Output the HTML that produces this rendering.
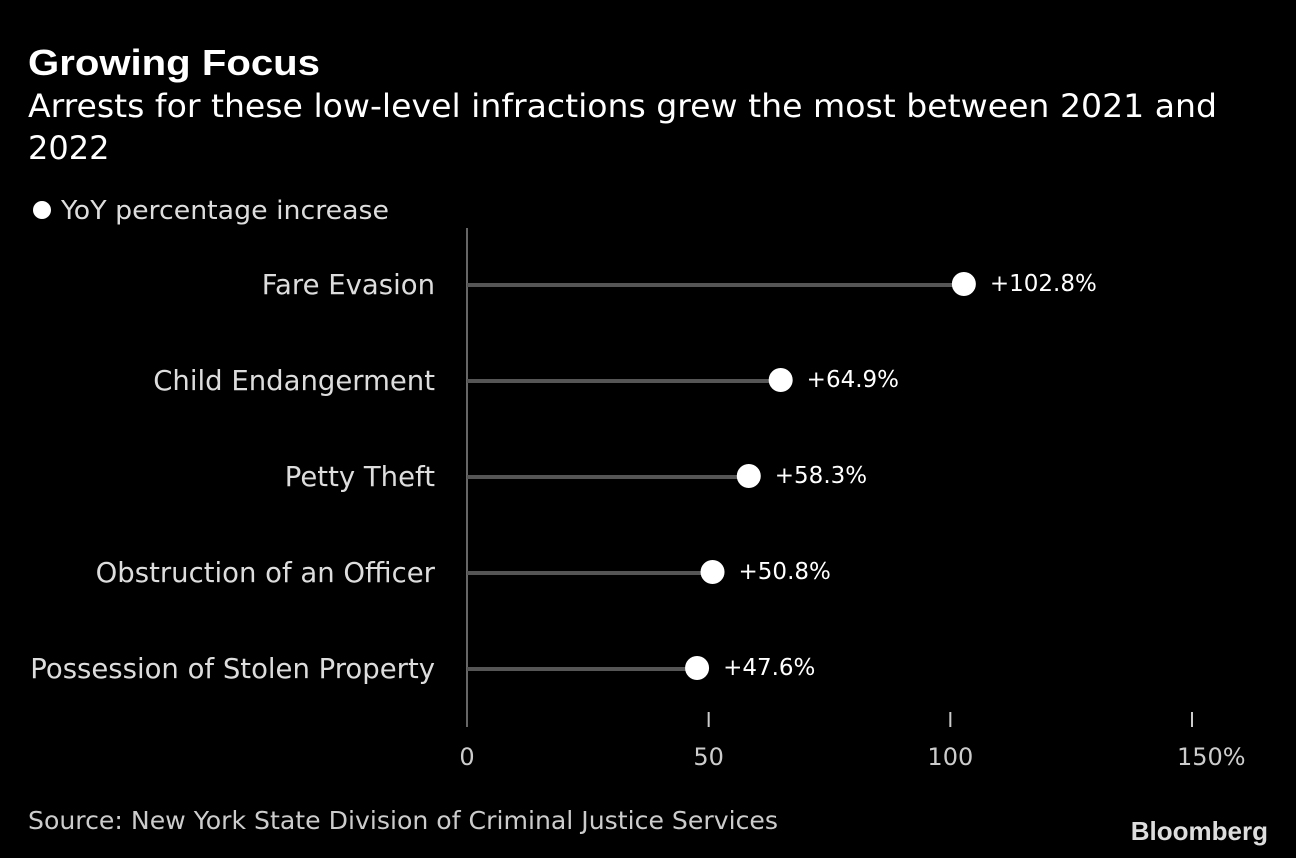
<!DOCTYPE html>
<html><head><meta charset="utf-8"><style>
body{margin:0;background:#000;width:1296px;height:858px;overflow:hidden;font-family:"DejaVu Sans","Liberation Sans",sans-serif;}
svg{display:block}
</style></head><body>
<svg id="c" width="1296" height="858">
<text x="28" y="75" fill="#fff" font-size="36" font-weight="bold" font-family="Liberation Sans, sans-serif" textLength="292" lengthAdjust="spacingAndGlyphs">Growing Focus</text>
<text x="28" y="117" fill="#fff" font-size="32" textLength="1189" lengthAdjust="spacingAndGlyphs">Arrests for these low-level infractions grew the most between 2021 and</text>
<text x="28" y="159" fill="#fff" font-size="32">2022</text>
<circle cx="42" cy="210" r="9" fill="#fff"/>
<text x="61" y="219" fill="#ddd" font-size="26" textLength="328" lengthAdjust="spacingAndGlyphs">YoY percentage increase</text>
<line x1="467" y1="228" x2="467" y2="727" stroke="#666" stroke-width="2"/>
<g id="ticks"></g><g id="rows"></g>
<text x="28" y="829" fill="#ccc" font-size="25" textLength="750" lengthAdjust="spacingAndGlyphs">Source: New York State Division of Criminal Justice Services</text>
<text x="1268" y="840" fill="#ddd" font-size="26" font-weight="bold" text-anchor="end" font-family="Liberation Sans, sans-serif">Bloomberg</text>
</svg>
<script>
const categories=["Fare Evasion","Child Endangerment","Petty Theft","Obstruction of an Officer","Possession of Stolen Property"];
const values=[102.8,64.9,58.3,50.8,47.6];
const tickValues=[0,50,100,150];
const tickLabels=["0","50","100","150%"];
const NS="http://www.w3.org/2000/svg";
const x=v=>467+v*(1192-467)/150;
const y=i=>285+i*96;
function mk(t,a,p){const e=document.createElementNS(NS,t);for(const k in a)e.setAttribute(k,a[k]);p.appendChild(e);return e;}
const tg=document.getElementById('ticks'),rg=document.getElementById('rows');
tickValues.forEach((v,i)=>{
 if(v>0){const l=mk('line',{x1:x(v),x2:x(v),y1:712,y2:727,stroke:'#ccc','stroke-width':2},tg);
 
 }
 const last=i===tickValues.length-1;
 const t=mk('text',{x:last?x(v)-15:x(v),y:765,fill:'#ccc','font-size':24,'text-anchor':last?'start':'middle'},tg);t.textContent=tickLabels[i];
 
 
});
categories.forEach((c,i)=>{
 const lab=mk('text',{x:435,y:y(i)+9,fill:'#ddd','font-size':27.5,'text-anchor':'end'},rg);lab.textContent=c;
 
 
 const ln=mk('line',{x1:467,x2:x(values[i]),y1:y(i),y2:y(i),stroke:'#555','stroke-width':4},rg);
 
 
 const d=mk('circle',{cx:x(values[i]),cy:y(i)-1,r:12,fill:'#fff'},rg);
 
 
 const vl=mk('text',{x:x(values[i])+26,y:y(i)+6,fill:'#fff','font-size':23},rg);vl.textContent='+'+values[i].toFixed(1)+'%';
 
 
});
</script>
</body></html>
